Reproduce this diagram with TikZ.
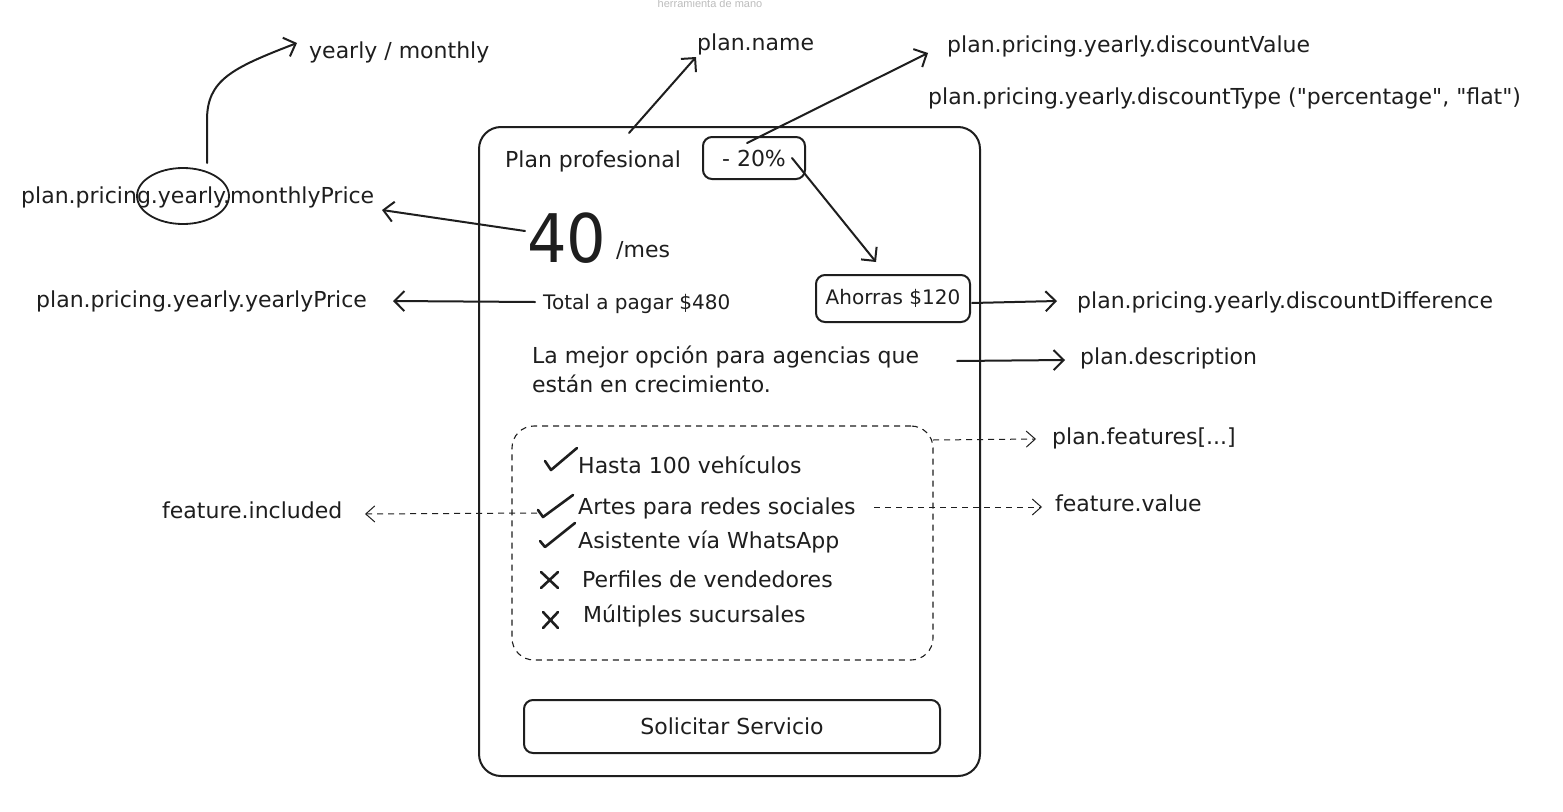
\documentclass[tikz,border=0pt]{standalone}
\usepackage{fontspec}
\setmainfont{DejaVu Sans}
\newfontfamily\qfont{DejaVu Sans}[Ligatures=TeXOff]
\newfontfamily\uifont{Liberation Sans}
\usetikzlibrary{arrows.meta,shapes.geometric}
\definecolor{ink}{HTML}{1E1E1E}
\definecolor{faint}{HTML}{BDBDBD}
\newcommand{\sq}{{\qfont"}}
\tikzset{
  lbl/.style={inner sep=0pt, anchor=base west, text=ink, font=\fontsize{22}{26}\selectfont},
  sml/.style={lbl, font=\fontsize{20}{24}\selectfont},
  cardbox/.style={draw=ink, line width=2pt, rounded corners=22pt, inner sep=0pt},
  pill/.style={draw=ink, line width=2pt, rounded corners=9pt, inner sep=0pt, text=ink, font=\fontsize{20}{24}\selectfont},
  dbox/.style={draw=ink, line width=1.1pt, dash pattern=on 6pt off 5pt, rounded corners=22pt, inner sep=0pt},
  ann/.style={draw=ink, line width=2pt, line cap=round, -{Straight Barb[length=10pt,width=20pt]}},
  dann/.style={draw=ink, line width=1pt, dash pattern=on 6pt off 5pt, -{Straight Barb[length=9pt,width=16pt]}},
  tick/.style={draw=ink, line width=2.6pt, line cap=round, line join=round},
}
\begin{document}
\begin{tikzpicture}[x=1pt,y=-1pt]
\useasboundingbox (0,0) rectangle (1563,811);
\fill[white] (0,0) rectangle (1563,811);

% faint top label
\node[inner sep=0pt, anchor=base, text=faint, font=\uifont\fontsize{11}{13}\selectfont] (tool) at (710,7) {herramienta de mano};

% card
\node[cardbox, anchor=north west, minimum width=501pt, minimum height=649pt] (card) at (478,126) {};

% header
\node[lbl] (pname) at (505,167) {Plan profesional};
\node[pill, minimum width=102pt, minimum height=42pt, font=\fontsize{22}{26}\selectfont] (pct) at (754,158) {- 20\%};

% price
\node[inner sep=0pt, anchor=base west, text=ink, font=\fontsize{67}{70}\selectfont] (price) at (527,262) {\scalebox{0.93}[1]{40}};
\node[lbl] (mes) at (616,257) {/mes};

\node[sml] (total) at (543,309) {Total a pagar \$480};
\node[pill, minimum width=154pt, minimum height=47pt] (ahorro) at (893,298.5) {Ahorras \$120};

% description
\node[lbl] (desc1) at (532,363) {La mejor opción para agencias que};
\node[lbl] (desc2) at (532,392) {están en crecimiento.};

% features
\node[dbox, minimum width=421pt, minimum height=234pt] (feat) at (722.5,543) {};
\node[lbl] (f1) at (578,473) {Hasta 100 vehículos};
\node[lbl] (f2) at (578,514) {Artes para redes sociales};
\node[lbl] (f3) at (578,548) {Asistente vía WhatsApp};
\node[lbl] (f4) at (582,587) {Perfiles de vendedores};
\node[lbl] (f5) at (583,622) {Múltiples sucursales};

\draw[tick] (545,461) -- (551,470) -- (577,448);
\draw[tick] (538,510) -- (543,517) -- (573,495);
\draw[tick] (540,541) -- (545,547) -- (575,523);
\draw[tick] (541,572) -- (558,588) (558,572) -- (541,588);
\draw[tick] (543,612) -- (558,628) (558,612) -- (543,628);

% button
\node[pill, minimum width=416pt, minimum height=53pt, font=\fontsize{22}{26}\selectfont] (btn) at (732,726.5) {Solicitar Servicio};

% outside labels
\node[lbl] (ym) at (309,58) {yearly / monthly};
\node[lbl] (name) at (697,50) {plan.name};
\node[lbl] (dval) at (947,52) {plan.pricing.yearly.discountValue};
\node[lbl] (dtype) at (928,104) {plan.pricing.yearly.discountType (\sq percentage\sq, \sq flat\sq)};
\node[lbl] (mprice) at (21,203) {plan.pricing.yearly.monthlyPrice};
\node[draw=ink, line width=1.8pt, ellipse, minimum width=92pt, minimum height=56pt, inner sep=0pt] (circ) at (183,196) {};
\node[lbl] (yprice) at (36,307) {plan.pricing.yearly.yearlyPrice};
\node[lbl] (ddiff) at (1077,308) {plan.pricing.yearly.discountDifference};
\node[lbl] (pdesc) at (1080,364) {plan.description};
\node[lbl] (pfeat) at (1052,444) {plan.features[...]};
\node[lbl] (fval) at (1055,511) {feature.value};
\node[lbl] (finc) at (162,518) {feature.included};

% connector ends
\coordinate (cS) at (207,163);
\coordinate (cT) at (297,43);
\coordinate (nS) at (629,133);
\coordinate (nT) at (696,57);
\coordinate (vS) at (747,143);
\coordinate (vT) at (928,53);
\coordinate (pS) at (792,158);
\coordinate (pT) at (876,262);
\coordinate (mS) at (525,231);
\coordinate (mT) at (382,210);
\coordinate (tS) at (535,302);
\coordinate (tT) at (393,301);
\coordinate (aS) at (972,303);
\coordinate (aT) at (1057,301);
\coordinate (dS) at (957,361);
\coordinate (dT) at (1065,360);
\coordinate (fS) at (933,440);
\coordinate (fT) at (1036,439);
\coordinate (vvS) at (874,507);
\coordinate (vvT) at (1042,507);
\coordinate (iS) at (537,513);
\coordinate (iT) at (365,514);

% connectors
\draw[ann] (cS) -- (207,120) .. controls (207,80) and (232,68) .. (cT);
\draw[ann] (nS) -- (nT);
\draw[ann] (vS) -- (vT);
\draw[ann] (pS) -- (pT);
\draw[ann] (mS) -- (mT);
\draw[ann] (tS) -- (tT);
\draw[ann] (aS) -- (aT);
\draw[ann] (dS) -- (dT);
\draw[dann] (fS) -- (fT);
\draw[dann] (vvS) -- (vvT);
\draw[dann] (iS) -- (iT);
\end{tikzpicture}
\end{document}
